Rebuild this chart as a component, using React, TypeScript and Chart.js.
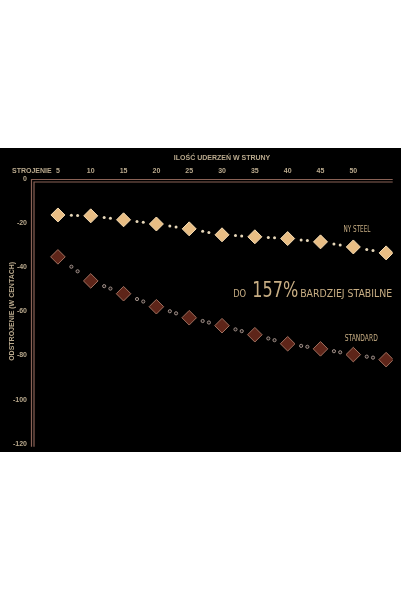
import React, { useEffect, useRef } from 'react';
import { Chart, registerables } from 'chart.js';

Chart.register(...registerables);

// strike counts (x) and detuning in cents (y)
const strikes = [5, 10, 15, 20, 25, 30, 35, 40, 45, 50, 55];
const nySteel = [-16.3, -16.7, -18.5, -20.4, -22.6, -25.3, -26.2, -27, -28.5, -30.8, -33.5];
const standard = [-35.3, -46.2, -52, -57.9, -62.9, -66.5, -70.6, -74.7, -77, -79.6, -81.9];
const xTicks = [5, 10, 15, 20, 25, 30, 35, 40, 45, 50];
const yTicks = [0, -20, -40, -60, -80, -100, -120];

const TEXT = '#b9a98d';
const TAN = '#c8ae84';
const SANS = '"Liberation Sans", Arial, sans-serif';
const NARROW = '"Liberation Sans Narrow", "DejaVu Sans Condensed", "Liberation Sans", sans-serif';

const decor = {
  id: 'decor',
  beforeDatasetsDraw(chart: any) {
    const { ctx, chartArea: a } = chart;
    ctx.save();
    // double frame lines on top and left
    ctx.strokeStyle = '#8a6256';
    ctx.lineWidth = 1.2;
    [0.5, 3].forEach((o) => {
      ctx.beginPath();
      ctx.moveTo(a.left + o, a.bottom + 3);
      ctx.lineTo(a.left + o, a.top + o);
      ctx.lineTo(a.right, a.top + o);
      ctx.stroke();
    });
    // small dots between markers
    chart.data.datasets.forEach((ds: any, i: number) => {
      const pts = chart.getDatasetMeta(i).data;
      for (let j = 0; j < pts.length - 1; j++) {
        const p0 = pts[j], p1 = pts[j + 1];
        [0.41, 0.6].forEach((t) => {
          const x = p0.x + (p1.x - p0.x) * t;
          const y = p0.y + (p1.y - p0.y) * t;
          ctx.beginPath();
          if (i === 0) {
            ctx.arc(x, y, 1.5, 0, Math.PI * 2);
            ctx.fillStyle = '#e6d6b8';
            ctx.fill();
          } else {
            ctx.arc(x, y, 1.6, 0, Math.PI * 2);
            ctx.fillStyle = '#1a1414';
            ctx.fill();
            ctx.strokeStyle = '#a09088';
            ctx.lineWidth = 1;
            ctx.stroke();
          }
        });
      }
    });
    ctx.restore();
  },
  afterDraw(chart: any) {
    const { ctx } = chart;
    const xs = chart.scales.x;
    const ys = chart.scales.y;
    ctx.save();
    ctx.fillStyle = TEXT;
    ctx.font = `bold 7px ${SANS}`;
    ctx.textBaseline = 'middle';
    ctx.textAlign = 'center';
    ctx.fillText('ILOŚĆ UDERZEŃ W STRUNY', xs.getPixelForValue(30), 10);
    ctx.textAlign = 'left';
    ctx.fillText('STROJENIE', 12, 23);

    // series labels
    ctx.fillStyle = TAN;
    ctx.font = `9px ${NARROW}`;
    ctx.fillText('NY STEEL', xs.getPixelForValue(48.5), ys.getPixelForValue(-23.1), 27);
    ctx.fillText('STANDARD', xs.getPixelForValue(48.7), ys.getPixelForValue(-72.4), 33);

    // headline
    ctx.textBaseline = 'alphabetic';
    let x = xs.getPixelForValue(31.7);
    const y = ys.getPixelForValue(-53.4);
    ctx.font = `11px ${NARROW}`;
    ctx.fillText('DO', x, y, 13);
    x += 19;
    ctx.font = `21px ${NARROW}`;
    ctx.fillText('157%', x, y, 46);
    x += 48;
    ctx.font = `11px ${NARROW}`;
    ctx.fillText('BARDZIEJ STABILNE', x, y, 92);
    ctx.restore();
  },
};

const App: React.FC = () => {
  const canvasRef = useRef<HTMLCanvasElement | null>(null);
  const chartRef = useRef<any>(null);

  useEffect(() => {
    if (chartRef.current) chartRef.current.destroy();
    const ctx = canvasRef.current?.getContext('2d');
    if (!ctx) return;

    const tickFont = { family: SANS, size: 7, weight: 'bold' as const };

    chartRef.current = new Chart(ctx, {
      type: 'line',
      data: {
        datasets: [
          {
            label: 'NY STEEL',
            data: strikes.map((s, i) => ({ x: s, y: nySteel[i] })),
            showLine: false,
            pointStyle: 'rectRot',
            pointRadius: 7,
            backgroundColor: '#e8bd84',
            borderColor: '#f7ddb4',
            borderWidth: 1,
          },
          {
            label: 'STANDARD',
            data: strikes.map((s, i) => ({ x: s, y: standard[i] })),
            showLine: false,
            pointStyle: 'rectRot',
            pointRadius: 7.3,
            backgroundColor: '#5e2519',
            borderColor: '#a0705f',
            borderWidth: 1,
          },
        ],
      },
      options: {
        animation: false,
        responsive: true,
        maintainAspectRatio: false,
        layout: { padding: { top: 0, left: 0, right: 4, bottom: 8 } },
        plugins: { legend: { display: false }, tooltip: { enabled: false } },
        scales: {
          x: {
            type: 'linear',
            position: 'top',
            min: 0.9,
            max: 56,
            afterBuildTicks: (s: any) => {
              s.ticks = xTicks.map((v) => ({ value: v }));
            },
            afterFit: (s: any) => {
              s.height = 31;
            },
            ticks: { color: TEXT, font: tickFont, padding: 4, maxRotation: 0, autoSkip: false },
            grid: { display: false, drawTicks: false },
            border: { display: false },
          },
          y: {
            type: 'linear',
            min: -120,
            max: 0,
            afterBuildTicks: (s: any) => {
              s.ticks = yTicks.map((v) => ({ value: v }));
            },
            afterFit: (s: any) => {
              s.width = 31;
            },
            ticks: { color: TEXT, font: tickFont, padding: 4 },
            grid: { display: false, drawTicks: false },
            border: { display: false },
            title: {
              display: true,
              text: 'ODSTROJENIE (W CENTACH)',
              color: TEXT,
              font: tickFont,
              padding: { top: 8, bottom: 0 },
            },
          },
        },
      },
      plugins: [decor],
    });

    return () => {
      if (chartRef.current) {
        chartRef.current.destroy();
        chartRef.current = null;
      }
    };
  }, []);

  return (
    <div style={{ position: 'fixed', left: 0, top: 0, width: 401, height: 601, background: '#fff' }}>
      <div style={{ position: 'absolute', left: 0, top: 148, width: 401, height: 304, background: '#000' }}>
        <canvas ref={canvasRef} />
      </div>
    </div>
  );
};

export default App;
